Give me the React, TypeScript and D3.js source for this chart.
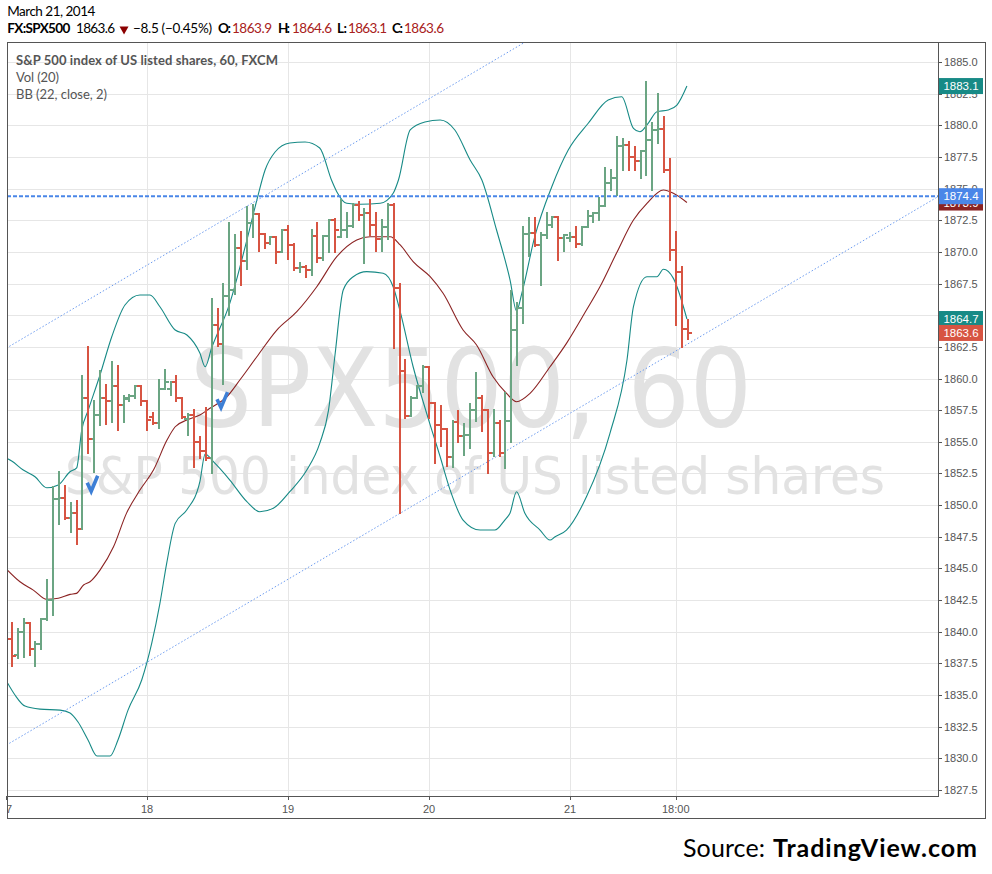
import * as d3 from "d3";

type Pt = [number, number];

// hourly bars, first one is 17 Mar 01:00 (hour 1 on the x scale)
const opens = [
  1839.4, 1838.2, 1840.0, 1840.7, 1838.6, 1839.0, 1841.0, 1842.5, 1850.5, 1850.6,
  1849.0, 1849.4, 1848.1, 1858.5, 1855.2, 1857.1, 1858.5, 1858.2, 1859.4, 1857.9,
  1858.4, 1858.6, 1859.4, 1858.2, 1857.0, 1856.5, 1859.2, 1859.2, 1859.75, 1858.45,
  1856.8, 1857.15, 1855.0, 1854.25, 1853.7, 1864.2, 1862.7, 1866.5, 1867.0, 1870.3,
  1869.3, 1872.25, 1873.0, 1871.45, 1870.7, 1871.2, 1870.0, 1871.7, 1870.55, 1868.7,
  1868.8, 1868.6, 1871.25, 1869.55, 1871.25, 1872.5, 1871.2, 1871.7, 1872.05, 1873.7,
  1872.9, 1873.1, 1872.1, 1871.05, 1872.0, 1873.7, 1867.15, 1860.6, 1857.05, 1858.5,
  1859.4, 1860.9, 1858.1, 1856.35, 1856.0, 1853.8, 1856.55, 1855.45, 1855.5, 1857.55,
  1858.5, 1857.55, 1854.15, 1856.5, 1854.15, 1856.65, 1863.85, 1865.6, 1871.45, 1871.5,
  1870.55, 1871.35, 1872.15, 1872.75, 1871.1, 1871.1, 1871.2, 1870.65, 1872.0, 1872.8,
  1873.1, 1873.6, 1875.45, 1875.85, 1878.4, 1878.45, 1877.5, 1877.15, 1877.95, 1878.85,
  1879.65, 1879.7, 1876.5, 1870.15, 1868.4, 1863.9,
];
const highs = [
  1840.7, 1840.2, 1841.0, 1840.7, 1839.2, 1841.0, 1844.1, 1851.4, 1852.6, 1851.5,
  1850.2, 1850.3, 1860.2, 1862.5, 1858.2, 1860.6, 1859.5, 1861.3, 1861.0, 1858.6,
  1858.7, 1859.4, 1859.4, 1858.2, 1857.25, 1859.9, 1860.7, 1859.75, 1860.2, 1858.45,
  1857.2, 1857.5, 1855.4, 1857.65, 1866.3, 1865.5, 1867.5, 1872.25, 1871.3, 1871.6,
  1873.55, 1873.7, 1873.0, 1871.45, 1871.2, 1871.2, 1871.7, 1872.05, 1870.65, 1869.15,
  1868.9, 1871.7, 1872.25, 1871.25, 1872.5, 1872.6, 1874.1, 1873.05, 1873.8, 1873.95,
  1873.4, 1874.1, 1873.05, 1872.5, 1873.75, 1873.75, 1867.5, 1861.5, 1858.55, 1859.4,
  1860.95, 1860.9, 1858.1, 1857.8, 1856.0, 1856.65, 1857.4, 1856.4, 1857.95, 1860.4,
  1858.6, 1857.55, 1857.55, 1856.65, 1858.85, 1866.9, 1866.0, 1872.0, 1872.65, 1872.65,
  1871.5, 1873.05, 1872.75, 1872.75, 1871.35, 1871.5, 1872.0, 1872.0, 1873.2, 1873.1,
  1874.25, 1876.6, 1876.5, 1879.1, 1878.9, 1878.65, 1878.3, 1877.95, 1883.4, 1880.15,
  1882.5, 1880.65, 1877.3, 1871.6, 1868.8, 1864.6,
];
const lows = [
  1837.3, 1837.9, 1838.0, 1838.2, 1837.3, 1838.6, 1840.9, 1841.3, 1848.5, 1848.9,
  1847.9, 1846.9, 1848.1, 1854.1, 1852.6, 1856.3, 1856.4, 1856.6, 1855.9, 1856.6,
  1858.2, 1858.5, 1857.9, 1855.9, 1856.4, 1856.1, 1859.2, 1858.7, 1858.2, 1856.85,
  1855.5, 1853.05, 1853.7, 1853.55, 1852.5, 1862.6, 1859.6, 1865.0, 1866.7, 1867.4,
  1868.65, 1871.2, 1870.1, 1870.3, 1870.6, 1869.1, 1870.0, 1869.45, 1868.6, 1868.4,
  1868.0, 1868.2, 1869.2, 1869.35, 1870.0, 1870.0, 1871.2, 1871.2, 1872.0, 1872.5,
  1869.1, 1871.3, 1870.1, 1870.1, 1871.05, 1862.4, 1849.4, 1856.9, 1857.05, 1858.5,
  1858.9, 1856.9, 1853.35, 1854.65, 1853.1, 1853.05, 1854.95, 1853.95, 1854.55, 1856.65,
  1855.85, 1852.55, 1853.9, 1853.9, 1852.9, 1854.95, 1861.1, 1864.4, 1869.65, 1870.5,
  1867.4, 1871.1, 1872.0, 1869.4, 1870.05, 1870.85, 1870.4, 1870.55, 1872.0, 1872.4,
  1872.55, 1873.6, 1874.9, 1874.5, 1876.5, 1876.5, 1876.5, 1875.85, 1876.1, 1874.9,
  1878.6, 1876.35, 1869.4, 1864.25, 1862.5, 1863.1,
];
const closes = [
  1838.1, 1840.0, 1840.7, 1838.6, 1839.0, 1841.0, 1842.5, 1850.5, 1850.6, 1849.0,
  1849.4, 1848.1, 1858.5, 1855.2, 1857.1, 1858.5, 1858.2, 1859.4, 1857.9, 1858.5,
  1858.6, 1859.4, 1858.2, 1856.7, 1856.5, 1859.2, 1859.75, 1859.75, 1858.45, 1857.0,
  1857.15, 1855.0, 1854.25, 1853.7, 1864.2, 1862.7, 1866.5, 1867.0, 1870.3, 1869.3,
  1872.25, 1873.0, 1871.45, 1870.7, 1871.2, 1870.0, 1871.7, 1870.55, 1868.7, 1868.8,
  1868.6, 1871.25, 1869.55, 1871.25, 1872.5, 1871.7, 1871.7, 1872.05, 1873.7, 1872.9,
  1873.1, 1872.1, 1871.05, 1872.0, 1873.7, 1867.15, 1860.6, 1857.05, 1858.5, 1859.4,
  1860.9, 1858.1, 1856.35, 1856.0, 1853.8, 1856.55, 1855.45, 1855.5, 1857.55, 1858.5,
  1857.55, 1854.15, 1856.5, 1854.15, 1856.65, 1863.85, 1865.6, 1871.45, 1871.5, 1870.55,
  1871.35, 1872.15, 1872.75, 1871.1, 1871.3, 1871.2, 1870.65, 1872.0, 1872.8, 1873.1,
  1873.6, 1875.45, 1875.85, 1878.4, 1878.45, 1877.5, 1877.15, 1877.95, 1878.85, 1879.65,
  1879.7, 1876.5, 1870.15, 1868.4, 1863.9, 1863.6,
];

// Bollinger bands: [hour, price]
const bbUpper: Pt[] = [
  [0.12, 1853.7], [0.97, 1853.48], [2.94, 1852.77], [4.94, 1852.24], [6.93, 1851.37],
  [8.9, 1851.59], [10.89, 1852.64], [12.03, 1852.95], [12.89, 1855.93], [14.0, 1857.51],
  [16.0, 1860.28], [18.0, 1863.3], [20.25, 1865.81], [22.8, 1866.6], [24.5, 1866.6],
  [26.2, 1865.67], [28.8, 1863.83], [30.8, 1863.44], [33.0, 1862.01], [33.9, 1860.93],
  [35.0, 1862.41], [38.1, 1865.96], [41.0, 1870.94], [42.7, 1874.1], [44.1, 1876.47],
  [45.8, 1877.89], [48.3, 1878.6], [50.9, 1878.68], [53.4, 1878.21], [55.4, 1875.68],
  [56.3, 1874.76], [58.0, 1873.84], [60.3, 1873.76], [63.7, 1873.84], [65.9, 1874.63],
  [66.8, 1875.68], [68.8, 1879.63], [71.3, 1880.26], [73.9, 1880.42], [76.4, 1879.63],
  [79.0, 1877.26], [81.0, 1875.68], [83.5, 1871.73], [85.8, 1867.78], [86.9, 1865.33],
  [87.8, 1866.73], [90.0, 1871.2], [92.9, 1875.15], [95.7, 1878.05], [99.1, 1880.16],
  [102.5, 1882.0], [104.8, 1882.26], [106.8, 1879.76], [107.9, 1879.49], [109.3, 1880.16],
  [110.8, 1881.07], [112.7, 1881.21], [114.2, 1881.6], [115.9, 1883.1],
];
const bbBasis: Pt[] = [
  [0.12, 1844.93], [2.38, 1843.95], [4.65, 1843.29], [6.93, 1842.56], [8.9, 1842.64],
  [10.9, 1842.95], [12.0, 1843.03], [13.2, 1843.69], [14.3, 1843.95], [16.0, 1844.87],
  [18.3, 1846.71], [20.5, 1849.35], [22.8, 1851.19], [25.1, 1852.77], [27.4, 1855.14],
  [28.8, 1856.19], [30.8, 1856.72], [33.0, 1857.12], [34.7, 1857.65], [37.6, 1858.56],
  [39.8, 1859.88], [42.7, 1861.72], [46.1, 1863.83], [49.5, 1865.28], [52.9, 1867.25],
  [56.3, 1869.62], [59.7, 1870.94], [62.0, 1871.2], [65.4, 1871.2], [67.1, 1870.55],
  [69.3, 1869.23], [72.2, 1868.04], [74.4, 1866.73], [77.8, 1863.83], [80.1, 1862.65],
  [82.9, 1860.14], [85.2, 1858.83], [86.9, 1858.17], [89.2, 1858.83], [92.6, 1860.93],
  [95.4, 1862.78], [98.8, 1865.41], [101.1, 1867.25], [103.9, 1869.89], [106.8, 1872.52],
  [109.1, 1873.84], [111.9, 1874.89], [113.6, 1874.63], [115.9, 1873.9],
];
const bbLower: Pt[] = [
  [0.17, 1836.03], [1.53, 1835.0], [3.23, 1834.13], [5.79, 1833.89], [9.19, 1833.81],
  [10.9, 1833.58], [12.26, 1832.87], [13.96, 1831.45], [15.5, 1830.18], [17.7, 1830.18],
  [19.06, 1831.45], [20.77, 1833.81], [23.1, 1836.19], [24.8, 1839.08], [26.2, 1842.24],
  [27.35, 1845.4], [28.8, 1848.56], [30.76, 1849.61], [33.0, 1851.85], [33.9, 1854.04],
  [35.3, 1853.43], [38.1, 1851.98], [41.0, 1850.27], [43.2, 1849.48], [45.5, 1849.75],
  [48.3, 1851.06], [51.2, 1852.77], [53.4, 1854.88], [54.9, 1857.51], [56.0, 1861.86],
  [57.4, 1866.99], [59.1, 1868.04], [61.4, 1868.44], [64.2, 1868.31], [65.9, 1867.25],
  [67.1, 1865.28], [69.3, 1860.93], [71.6, 1857.25], [73.9, 1853.82], [75.6, 1851.19],
  [77.8, 1848.82], [80.7, 1848.03], [83.2, 1848.03], [84.9, 1848.82], [85.8, 1849.38],
  [86.9, 1851.06], [88.3, 1849.38], [90.9, 1848.03], [92.6, 1847.24], [93.4, 1847.48],
  [95.4, 1848.03], [98.8, 1850.66], [102.8, 1855.67], [105.7, 1861.46], [106.8, 1865.67],
  [109.1, 1868.04], [110.8, 1868.04], [111.9, 1868.63], [113.6, 1867.91], [115.9, 1864.7],
];

// drawings
const levelPrice = 1874.4;
const channelTop: Pt[] = [[0.17, 1862.43], [68.77, 1881.21]];
const channelBottom: Pt[] = [[67.06, 1849.35], [118.13, 1863.3]];
const ideaMarks: Pt[] = [[14.5, 1850.9], [36.6, 1857.5]];

const yTicks = [
  1827.5, 1830, 1832.5, 1835, 1837.5, 1840, 1842.5, 1845, 1847.5, 1850, 1852.5, 1855,
  1857.5, 1860, 1862.5, 1865, 1867.5, 1870, 1872.5, 1875, 1877.5, 1880, 1882.5, 1885,
];
const xTickHours = [0, 24, 48, 72, 96, 114];
const xTickLabels = ["17", "18", "19", "20", "21", "18:00"];

const UP = "#6ba583";
const DOWN = "#d75442";
const TEAL = "#178a86";
const BASIS = "#8b2323";
const BLUE = "#4a86e8";
const AXIS = "#555";
const GRID = "#e6e6e6";

const PL = 7, PR = 938, PT = 42, PB = 796;

export default function App() {
  const x = d3.scaleLinear().domain([0, 116]).range([6, 6 + 116 * 5.875]);
  const y = d3.scaleLinear().domain([1827.5, 1885]).range([790, 62]);

  const bandLine = d3
    .line<Pt>()
    .x((d) => x(d[0]))
    .y((d) => y(d[1]))
    .curve(d3.curveMonotoneX);

  let upPath = "";
  let downPath = "";
  opens.forEach((o, i) => {
    const bx = Math.round(x(i + 1));
    const seg =
      `M${bx},${Math.round(y(highs[i])) - 1}V${Math.round(y(lows[i])) + 1}` +
      `M${bx - 4},${Math.round(y(o))}H${bx}` +
      `M${bx},${Math.round(y(closes[i]))}H${bx + 4}`;
    if (closes[i] >= o) upPath += seg;
    else downPath += seg;
  });

  const extend = (pts: Pt[]) => {
    const [[h1, p1], [h2, p2]] = pts;
    const k = (p2 - p1) / (h2 - h1);
    return `M${x(-2)},${y(p1 + (-2 - h1) * k)}L${x(170)},${y(p1 + (170 - h1) * k)}`;
  };

  const last = closes.length - 1;
  const labels = [
    { v: bbBasis[bbBasis.length - 1][1], c: BASIS },
    { v: levelPrice, c: BLUE },
    { v: bbUpper[bbUpper.length - 1][1], c: TEAL },
    { v: bbLower[bbLower.length - 1][1], c: TEAL },
    { v: closes[last], c: DOWN },
  ];

  const hdr = { fontFamily: "Lato, 'Open Sans', sans-serif", fontSize: 13.5 };

  return (
    <svg
      width={992}
      height={874}
      style={{ position: "absolute", left: 0, top: 0, background: "#fff" }}
    >
      <defs>
        <clipPath id="plot">
          <rect x={PL} y={PT} width={PR - PL} height={PB - PT} />
        </clipPath>
        <clipPath id="xaxis">
          <rect x={PL} y={PB} width={PR - PL} height={24} />
        </clipPath>
      </defs>

      {/* header */}
      <text x={7.3} y={16} {...hdr} fill="#000" textLength={88}>
        March 21, 2014
      </text>
      <g {...hdr} fill="#000">
        <text x={7.3} y={33} fontWeight="bold" textLength={63}>FX:SPX500</text>
        <text x={76} y={33} textLength={39}>1863.6</text>
        <path d="M119.5,26.5H128.5L124,34.5Z" fill="#8b0000" />
        <text x={133} y={33} textLength={79}>−8.5 (−0.45%)</text>
        <text x={218} y={33} fontWeight="bold" textLength={13}>O:</text>
        <text x={232} y={33} fill="#a82020" textLength={40}>1863.9</text>
        <text x={278} y={33} fontWeight="bold" textLength={12}>H:</text>
        <text x={292} y={33} fill="#a82020" textLength={40}>1864.6</text>
        <text x={337} y={33} fontWeight="bold" textLength={10}>L:</text>
        <text x={348} y={33} fill="#a82020" textLength={39}>1863.1</text>
        <text x={392} y={33} fontWeight="bold" textLength={11}>C:</text>
        <text x={404} y={33} fill="#a82020" textLength={40}>1863.6</text>
      </g>

      {/* grid */}
      <g stroke={GRID} strokeWidth={1} shapeRendering="crispEdges">
        {yTicks.map((t) => (
          <line key={t} x1={PL} x2={PR} y1={Math.round(y(t)) + 0.5} y2={Math.round(y(t)) + 0.5} />
        ))}
        {xTickHours.slice(1).map((h) => (
          <line key={h} x1={Math.round(x(h)) + 0.5} x2={Math.round(x(h)) + 0.5} y1={PT} y2={PB} />
        ))}
      </g>

      {/* watermark */}
      <g fontFamily="'DejaVu Sans', Verdana, sans-serif" fill="#e2e2e2">
        <text x={471} y={426} fontSize={108} textAnchor="middle" textLength={562} lengthAdjust="spacingAndGlyphs">
          SPX500, 60
        </text>
        <text x={475} y={494} fontSize={52} textAnchor="middle" textLength={820} lengthAdjust="spacingAndGlyphs">
          S&amp;P 500 index of US listed shares
        </text>
      </g>

      {/* legend */}
      <g fontFamily="Lato, 'Open Sans', sans-serif" fontSize={13} fill="#555">
        <text x={16} y={64.5} fontWeight="bold" textLength={262}>
          S&amp;P 500 index of US listed shares, 60, FXCM
        </text>
        <text x={16} y={82} textLength={43}>Vol (20)</text>
        <text x={16} y={99} textLength={91}>BB (22, close, 2)</text>
      </g>

      <g clipPath="url(#plot)">
        <path d={bandLine(bbUpper) ?? ""} fill="none" stroke={TEAL} strokeWidth={1.1} />
        <path d={bandLine(bbLower) ?? ""} fill="none" stroke={TEAL} strokeWidth={1.1} />
        <path d={bandLine(bbBasis) ?? ""} fill="none" stroke={BASIS} strokeWidth={1.1} />

        <path d={extend(channelTop)} stroke="#6d9cf0" strokeWidth={1} strokeDasharray="1.5,2" fill="none" />
        <path d={extend(channelBottom)} stroke="#6d9cf0" strokeWidth={1} strokeDasharray="1.5,2" fill="none" />
        <line
          x1={PL}
          x2={PR}
          y1={y(levelPrice)}
          y2={y(levelPrice)}
          stroke={BLUE}
          strokeWidth={2}
          strokeDasharray="4,2"
        />

        <path d={upPath} stroke={UP} strokeWidth={2} fill="none" shapeRendering="crispEdges" />
        <path d={downPath} stroke={DOWN} strokeWidth={2} fill="none" shapeRendering="crispEdges" />

        {ideaMarks.map(([h, p], i) => (
          <polyline
            key={i}
            transform={`translate(${x(h)},${y(p)})`}
            points="-4,-11 0,-2.5 6.5,-18"
            fill="none"
            stroke="#3d7fd6"
            strokeWidth={3.6}
            strokeLinejoin="miter"
          />
        ))}
      </g>

      {/* axes & frame */}
      <g stroke={AXIS} fill="none" shapeRendering="crispEdges">
        <rect x={7.5} y={42.5} width={978} height={775.5} />
        <line x1={PR + 0.5} x2={PR + 0.5} y1={PT} y2={PB + 0.5} />
        <line x1={PL} x2={PR + 0.5} y1={PB + 0.5} y2={PB + 0.5} />
        {yTicks.map((t) => (
          <line key={t} x1={PR} x2={PR + 4} y1={Math.round(y(t)) + 0.5} y2={Math.round(y(t)) + 0.5} />
        ))}
        {xTickHours.map((h) => (
          <line key={h} x1={Math.round(x(h)) + 0.5} x2={Math.round(x(h)) + 0.5} y1={PB} y2={PB + 4} />
        ))}
      </g>
      <g fontFamily="'Liberation Sans', Arial, sans-serif" fontSize={11} fill="#555">
        {yTicks.map((t) => (
          <text key={t} x={944} y={y(t) + 4}>
            {t.toFixed(1)}
          </text>
        ))}
        <g clipPath="url(#xaxis)">
          {xTickLabels.map((l, i) => (
            <text key={l} x={x(xTickHours[i])} y={813} textAnchor="middle">
              {l}
            </text>
          ))}
        </g>
      </g>

      {/* price labels on the scale */}
      <g fontFamily="'Liberation Sans', Arial, sans-serif" fontSize={11.5}>
        {labels.map((d, i) => (
          <g key={i} transform={`translate(939,${y(d.v)})`}>
            <rect x={0} y={-8} width={44} height={16} fill={d.c} />
            <text x={22} y={4} textAnchor="middle" fill="#fff">
              {d.v.toFixed(1)}
            </text>
          </g>
        ))}
      </g>

      {/* source */}
      <text x={683} y={857} fontFamily="Lato, 'Open Sans', sans-serif" fontSize={25} fill="#000" textLength={82}>
        Source:
      </text>
      <text
        x={773}
        y={857}
        fontFamily="Lato, 'Open Sans', sans-serif"
        fontSize={25}
        fontWeight="bold"
        fill="#000"
        textLength={204}
      >
        TradingView.com
      </text>
    </svg>
  );
}
